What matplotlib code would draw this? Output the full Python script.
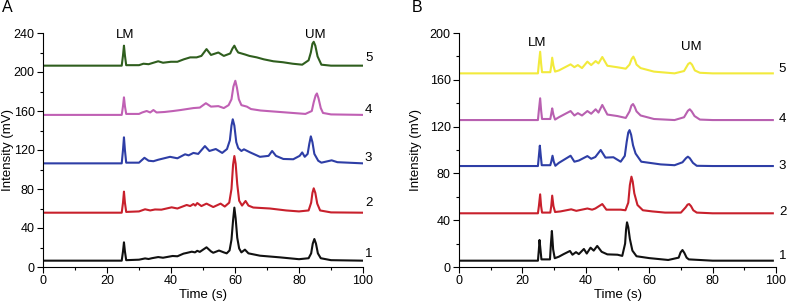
import matplotlib
matplotlib.use("Agg")
import matplotlib.pyplot as plt
from matplotlib.ticker import MultipleLocator

plt.rcParams['font.family'] = ['Liberation Sans', 'DejaVu Sans']

# ---------------- Panel A data (time s, intensity mV) ----------------
a1_t = [0, 24.6, 25.0, 25.3, 25.6, 26.0, 30, 31.9, 33, 34, 36, 37.5, 40.5, 42, 43.9, 45, 46.5, 47.5, 48.2, 49,
        51.1, 52.5, 53.2, 55, 56.5, 57.4, 58.3, 58.9, 59.4, 59.8, 60.2, 60.7, 61.3, 62, 63.1, 64.2, 67.8, 74,
        80, 83, 83.8, 84.3, 84.8, 85.3, 85.9, 86.8, 90, 100]
a1_v = [6.5, 6.5, 16, 25.3, 16, 7, 7.5, 8.8, 8.2, 9, 10.2, 9.5, 11.3, 11, 13.7, 14.5, 15.7, 15, 16.6, 15.5,
        20.2, 16, 14.6, 16.9, 15, 14, 17, 28, 48, 60.9, 50, 30, 19, 15, 17.8, 14, 11.6, 9.9,
        8, 9, 14, 24, 28.7, 24, 14, 9, 7, 6.5]

a2_t = [0, 24.6, 25.0, 25.3, 25.6, 26.0, 30, 31.9, 33.5, 35, 37, 40.2, 42, 44.9, 46, 47, 47.6, 48.2, 49.5,
        51.1, 53.2, 55.5, 56.8, 58.2, 58.9, 59.4, 59.8, 60.2, 60.7, 61.3, 62.2, 63.3, 64.2, 65.7, 70.9, 76, 80,
        83, 83.8, 84.2, 84.6, 85.1, 85.7, 86.6, 90, 100]
a2_v = [55.7, 55.7, 66, 77.3, 66, 56.5, 57, 59.2, 58, 59, 58.8, 61.2, 60, 63.6, 62.5, 64.6, 63, 65.6, 62.5,
        65, 61.5, 65, 62, 66, 80, 105, 113.8, 106, 85, 68, 63, 67.7, 63, 61, 60, 58, 57,
        58, 66, 76, 80.7, 76, 65, 58, 56, 55.7]

a3_t = [0, 24.6, 25.0, 25.3, 25.6, 26.0, 30, 31.7, 33, 34.5, 36, 39.7, 42, 44.4, 45.5, 47, 48.5, 50.6, 52,
        54, 56, 57.5, 58.4, 58.9, 59.3, 59.8, 60.4, 61, 62, 62.8, 64.7, 67.8, 70.5, 71.6, 72.8, 75.1, 78.2,
        80.2, 81, 81.8, 82.7, 83.2, 83.7, 84.2, 84.8, 86, 87, 90.2, 92, 100]
a3_v = [106.3, 106.3, 120, 133, 120, 107, 107, 112, 109, 108.5, 110, 113, 111.5, 115.6, 114.5, 117, 116, 124, 119,
        121, 117, 121, 130, 145, 151.5, 145, 128, 122, 119, 120.7, 117.6, 113, 114, 119, 114, 110.8, 110.5,
        114, 117.5, 113, 116, 126, 134, 128, 116, 109, 107, 109.4, 107.5, 106.3]

a4_t = [0, 24.6, 25.0, 25.3, 25.6, 26.0, 30, 31, 32.4, 33.5, 34.5, 35.5, 38, 40.7, 43, 45, 47, 49, 50.9,
        52.5, 54.8, 56.5, 58, 58.9, 59.5, 60.1, 60.6, 61.2, 62, 63.7, 65, 68, 72, 78, 82, 84, 84.6, 85.2,
        85.6, 86.1, 86.8, 87.5, 90, 100]
a4_v = [156, 156, 165, 174, 165, 157, 157, 158.5, 160, 158.5, 161, 158.5, 159, 160, 161, 162, 163, 163.5, 168,
        164.5, 165, 163, 166, 172, 185, 191, 184, 172, 166, 164.5, 162, 160.5, 159.5, 158, 157, 160, 169, 176,
        178, 173, 163, 158, 156.5, 156]

a5_t = [0, 24.6, 25.0, 25.3, 25.6, 26.0, 30, 31.4, 33, 36, 37.5, 40, 42, 44, 46, 48, 49.5, 51.1, 52.5,
        54.8, 56.5, 58.5, 59.2, 59.8, 60.4, 61, 63.1, 64.5, 66.8, 69, 72, 75, 78, 81, 83, 83.7, 84.2, 84.6,
        85.1, 85.8, 87, 90, 100]
a5_v = [206.5, 206.5, 217, 227, 217, 207, 207, 208.5, 208, 211, 209.5, 210.5, 210.5, 213, 215, 215, 216.5, 223.5, 217.5,
        220, 216.5, 219, 224, 227, 223, 220, 218, 216.5, 215, 213, 211, 210, 208.5, 207.5, 212, 220, 229, 231,
        227, 216, 207.5, 206.5, 206.5]

# ---------------- Panel B data ----------------
b1_t = [0.5, 24.9, 25.2, 25.4, 25.7, 26.0, 28.7, 29.0, 29.3, 29.7, 30.2, 31.5, 33, 35, 35.8, 36.9, 37.8, 39.4,
        40.3, 41.5, 42.5, 43.6, 45, 46.8, 50, 51.5, 52.4, 52.7, 53, 53.4, 53.9, 54.7, 56, 60, 66, 69.3, 69.9,
        70.5, 71.1, 71.8, 72.5, 80, 99]
b1_v = [5.4, 5.4, 15, 23.1, 15, 6.5, 6.5, 20, 30.8, 15, 7.5, 8.8, 11, 13.7, 10.5, 12.7, 11, 15.4,
        11.5, 16.5, 14, 18, 13, 10.8, 10.5, 9.5, 20, 32, 38.2, 34, 24, 14, 9.2, 7.6, 6, 8, 12.5,
        14.5, 12, 8, 6.5, 5.4, 5.4]

b2_t = [0.5, 24.9, 25.2, 25.6, 25.9, 26.2, 28.8, 29.1, 29.4, 29.8, 30.3, 32, 35.4, 37, 40.5, 42, 43, 45.2,
        46.5, 48, 51, 52.5, 53.4, 53.9, 54.4, 54.8, 55.3, 56.3, 58, 61, 65, 70, 71.5, 72.1, 72.6, 73.2, 73.9,
        75, 80, 99]
b2_v = [45.9, 45.9, 52, 62.1, 52, 46.5, 46.5, 52, 61, 52, 47, 47.5, 49.3, 48, 50, 49, 50, 53.8,
        49, 49, 49, 48.5, 55, 70, 77.2, 73, 63, 53, 48.5, 47.5, 46.5, 46.5, 51, 53.3, 53.8, 52, 48.5,
        46.5, 45.9, 45.9]

b3_t = [0.5, 24.9, 25.2, 25.5, 25.8, 26.1, 28.8, 29.1, 29.5, 29.9, 30.4, 31.5, 35.2, 36.4, 37.8, 40.5, 41.7, 43,
        44.7, 46.2, 48.7, 51, 52.3, 52.9, 53.4, 53.8, 54.3, 54.9, 55.7, 57.5, 63.6, 68, 70.5, 71.6, 72.2,
        72.8, 73.8, 75, 80, 99]
b3_v = [86.3, 86.3, 95, 103.7, 95, 87, 87, 90, 95.1, 90, 86.5, 89, 95.1, 90, 91, 94.8, 92.5, 94,
        100, 93.5, 93.8, 90, 95, 107, 115, 117, 113, 104, 97, 90, 87.7, 87, 89.5, 93, 94.3,
        93, 89, 86.5, 86.3, 86.3]

b4_t = [0.5, 24.9, 25.2, 25.6, 25.9, 26.2, 28.8, 29.1, 29.4, 29.8, 30.3, 31.5, 35.2, 36.4, 37.5, 38.8, 40.5, 41.7,
        43.1, 44, 45.2, 46.8, 50, 52.6, 53.8, 54.4, 54.9, 55.4, 56, 57.3, 61.5, 68, 71, 72.2, 72.8, 73.4,
        74.3, 76, 80, 99]
b4_v = [125.6, 125.6, 134, 144.2, 134, 126.5, 126.5, 131, 135.6, 130, 126, 128, 133.3, 129.5, 131.5, 129.5, 133.3, 131,
        134.8, 132, 138.5, 130.3, 129, 127.4, 133, 138, 139.3, 137, 133, 129.5, 126.5, 125.6, 128, 133.5, 134.8, 133,
        129, 126, 125.6, 125.6]

b5_t = [0.5, 24.9, 25.2, 25.6, 25.9, 26.2, 28.8, 29.1, 29.4, 29.8, 30.3, 31.5, 35.2, 36.4, 37.5, 38.8, 40.5, 41.7,
        43.1, 44, 45.2, 46.8, 50, 52.6, 53.8, 54.5, 55.0, 55.5, 56, 57.3, 61.5, 68, 71, 72.3, 72.9, 73.5,
        74.4, 76, 80, 99]
b5_v = [165.5, 165.5, 174, 184, 174, 166.5, 166.5, 172, 178.9, 172, 167, 168, 173.2, 170.8, 172.6, 170, 175.5, 172.6,
        176, 174, 179.5, 172, 170.7, 169.5, 173, 178, 179.8, 177, 173, 170, 167, 165.5, 167.5, 173.5, 174.6, 173,
        168, 166, 165.5, 165.5]

trace_labels = ["1", "2", "3", "4", "5"]
colors_a = ["#111111", "#c8202c", "#2e3ea6", "#c060b4", "#2f5e1e"]
colors_b = ["#111111", "#c8202c", "#2e3ea6", "#b860b0", "#f2ea3c"]
label_y_a = [13, 65.6, 112, 161, 214]
label_y_b = [9, 47, 86, 126.5, 169]

fig = plt.figure(figsize=(7.87, 3.08), dpi=100)
axA = fig.add_axes([43/787, 41/308, 320/787, 234/308])
axB = fig.add_axes([459/787, 41/308, 317/787, 234/308])

A_series = [(a1_t, a1_v), (a2_t, a2_v), (a3_t, a3_v), (a4_t, a4_v), (a5_t, a5_v)]
B_series = [(b1_t, b1_v), (b2_t, b2_v), (b3_t, b3_v), (b4_t, b4_v), (b5_t, b5_v)]

for (t, v), c in zip(A_series, colors_a):
    axA.plot(t, v, color=c, lw=1.5, solid_joinstyle='round')
for (t, v), c in zip(B_series, colors_b):
    axB.plot(t, v, color=c, lw=1.5, solid_joinstyle='round')

TFS = 9     # tick labels
LFS = 9.5   # axis labels
for ax, ymax, ymaj, ymin in [(axA, 240, 40, 20), (axB, 200, 40, 20)]:
    ax.set_xlim(0, 100)
    ax.set_ylim(0, ymax)
    ax.spines['top'].set_visible(False)
    ax.spines['right'].set_visible(False)
    ax.spines['left'].set_linewidth(0.8)
    ax.spines['bottom'].set_linewidth(0.8)
    ax.xaxis.set_major_locator(MultipleLocator(20))
    ax.xaxis.set_minor_locator(MultipleLocator(10))
    ax.yaxis.set_major_locator(MultipleLocator(ymaj))
    ax.yaxis.set_minor_locator(MultipleLocator(ymin))
    ax.tick_params(which='major', direction='out', length=4, width=0.8, labelsize=TFS, pad=2)
    ax.tick_params(which='minor', direction='out', length=2.5, width=0.8)
    ax.set_xlabel("Time (s)", fontsize=LFS, labelpad=1)
    ax.set_ylabel("Intensity (mV)", fontsize=LFS)

# y-label positions (right edge of rotated text), in axes fraction
axA.yaxis.set_label_coords(-(43 - 14) / 320, 0.5)
axB.yaxis.set_label_coords(-(459 - 422) / 317, 0.5)

for lab, y in zip(trace_labels, label_y_a):
    axA.text(100.6, y, lab, fontsize=9.5, va='center', ha='left', clip_on=False)
for lab, y in zip(trace_labels, label_y_b):
    axB.text(100.9, y, lab, fontsize=9.5, va='center', ha='left', clip_on=False)

axA.text(25.6, 238, "LM", fontsize=9.5, ha='center', va='center')
axA.text(85, 238, "UM", fontsize=9.5, ha='center', va='center')
axB.text(24.6, 191.5, "LM", fontsize=9.5, ha='center', va='center')
axB.text(73.4, 187.8, "UM", fontsize=9.5, ha='center', va='center')

fig.text(2/787, 1 - 8/308, "A", fontsize=11.5, ha='left', va='center')
fig.text(412/787, 1 - 8/308, "B", fontsize=11.5, ha='left', va='center')

fig.savefig("out.png", dpi=100)
